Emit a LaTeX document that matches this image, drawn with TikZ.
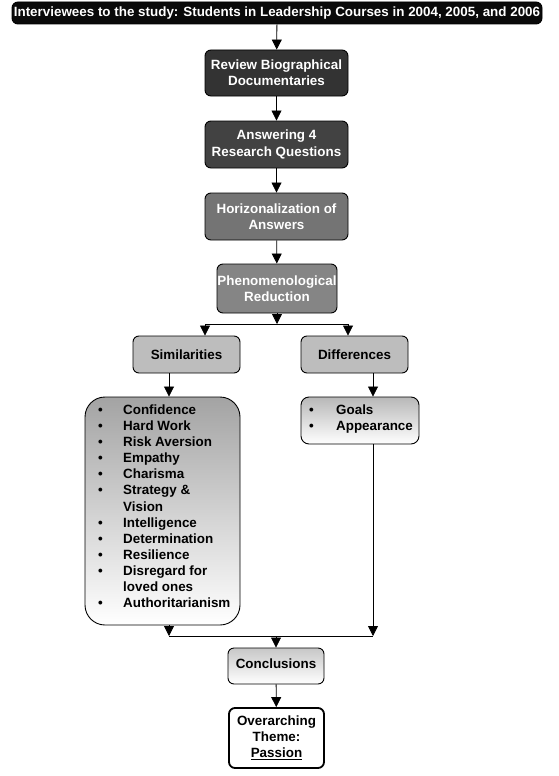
\documentclass[tikz,border=0pt]{standalone}
\usepackage{fontspec}
\setmainfont{Liberation Sans}
\usetikzlibrary{arrows.meta}
\definecolor{topbg}{HTML}{0A0A0A}
\definecolor{darkA}{HTML}{333333}
\definecolor{darkB}{HTML}{424242}
\definecolor{midA}{HTML}{747474}
\definecolor{midB}{HTML}{858585}
\definecolor{lightbox}{HTML}{BDBDBD}
\begin{document}
\begin{tikzpicture}[x=1pt,y=-1pt,
  every node/.style={font=\bfseries\fontsize{13.4}{16.1}\selectfont, inner sep=0pt},
  box/.style={draw=black, line width=0.9pt, rounded corners=6pt, align=center},
  darkbox/.style={box, text=white},
  arr/.style={line width=0.8pt, -{Triangle[length=10pt,width=10pt]}},
  ln/.style={line width=0.8pt}]
\useasboundingbox[fill=white] (0,0) rectangle (559,776);

\node[box, fill=topbg, text=white, minimum width=530pt, minimum height=22pt] (top) at (277,13)
  {Interviewees to the study: Students in Leadership Courses in 2004, 2005, and 2006};
\node[darkbox, fill=darkA, minimum width=143pt, minimum height=46pt] (rev) at (276.5,73)
  {Review Biographical\\Documentaries};
\node[darkbox, fill=darkB, minimum width=143pt, minimum height=47pt] (ans) at (276.5,144.5)
  {Answering 4\\Research Questions};
\node[darkbox, fill=midA, minimum width=143pt, minimum height=47pt] (hor) at (276.5,216.5)
  {Horizonalization of\\Answers};
\node[darkbox, fill=midB, minimum width=120pt, minimum height=49pt] (phen) at (277,288.5)
  {Phenomenological\\Reduction};
\node[box, fill=lightbox, minimum width=107pt, minimum height=37pt] (sim) at (186.5,354.5)
  {Similarities};
\node[box, fill=lightbox, minimum width=107pt, minimum height=37pt] (dif) at (354.5,354.5)
  {Differences};

\node[draw=black, line width=0.9pt, rounded corners=20pt, top color=black!36, bottom color=white,
  minimum width=155pt, minimum height=228pt] (simlist) at (162.5,511) {};
\node[anchor=north west, align=left] (simtext) at (98,403) {%
  \begin{tabular}{@{}p{25pt}@{}l@{}}
  \textbullet & Confidence\\
  \textbullet & Hard Work\\
  \textbullet & Risk Aversion\\
  \textbullet & Empathy\\
  \textbullet & Charisma\\
  \textbullet & Strategy \&\\
              & Vision\\
  \textbullet & Intelligence\\
  \textbullet & Determination\\
  \textbullet & Resilience\\
  \textbullet & Disregard for\\
              & loved ones\\
  \textbullet & Authoritarianism
  \end{tabular}};

\node[draw=black, line width=0.9pt, rounded corners=8pt, top color=black!28, bottom color=white,
  minimum width=118pt, minimum height=47pt] (diflist) at (360,420.5) {};
\node[anchor=north west, align=left] (diftext) at (309,403) {%
  \begin{tabular}{@{}p{27pt}@{}l@{}}
  \textbullet & Goals\\
  \textbullet & Appearance
  \end{tabular}};

\node[box, top color=black!22, bottom color=white, minimum width=96pt, minimum height=36pt] (con) at (276,666)
  {\raisebox{4pt}{Conclusions}};
\node[box, fill=white, line width=1.8pt, minimum width=95pt, minimum height=60pt] (over) at (276.5,738)
  {Overarching\\Theme:\\\underline{Passion}};

% connectors
\draw[arr] (top) -- (rev);
\draw[arr] (rev) -- (ans);
\draw[arr] (ans) -- (hor);
\draw[arr] (hor) -- (phen);
\coordinate (bm) at (277,324);
\coordinate (bl) at (205,324);
\coordinate (br) at (348,324);
\draw[arr] (phen) -- (bm);
\draw[ln] (bl) -- (br);
\draw[arr] (bl) -- (bl |- sim.north);
\draw[arr] (br) -- (br |- dif.north);
\draw[arr] (sim.south -| 169,0) -- (169,0 |- simlist.north);
\draw[arr] (dif.south -| 373,0) -- (373,0 |- diflist.north);
\coordinate (jl) at (169,636);
\coordinate (jr) at (373,636);
\coordinate (jm) at (276,636);
\draw[arr] (simlist.south -| jl) -- (jl);
\draw[arr] (diflist.south -| jr) -- (jr);
\draw[ln] (jl) -- (jr);
\draw[arr] (jm) -- (con);
\draw[arr] (con) -- (over);
\end{tikzpicture}
\end{document}
